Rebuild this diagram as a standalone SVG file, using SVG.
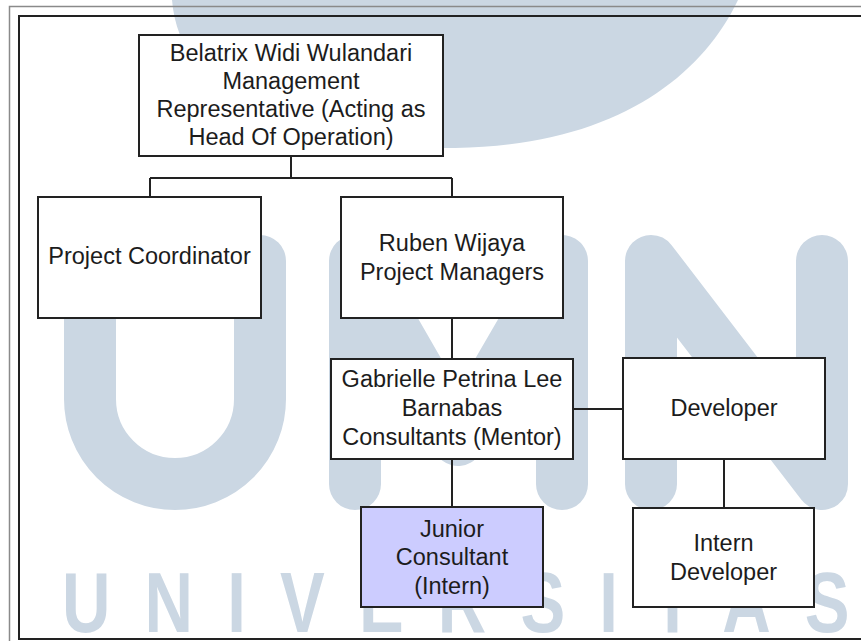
<svg xmlns="http://www.w3.org/2000/svg" width="861" height="641" viewBox="0 0 861 641">
<style>
.box{fill:#ffffff;stroke:#222222;stroke-width:2}
.hl{fill:#ccccff;stroke:#222222;stroke-width:2}
.lbl{font-family:"Liberation Sans",Arial,Helvetica,sans-serif;font-size:23.5px;fill:#1c1c1c;text-anchor:middle}
.conn{fill:none;stroke:#222222;stroke-width:2}
.wm{fill:none;stroke:#cbd7e3;stroke-width:52;stroke-linecap:round;stroke-linejoin:round}
.wmt{font-family:"Liberation Sans",Arial,sans-serif;font-weight:bold;font-size:86px;fill:#cbd7e3}
</style>
<rect x="0" y="0" width="861" height="641" fill="#ffffff"/>
<g id="watermark">
<path d="M172,0 C180,100 300,150 455,148 C610,146 700,80 738,0 Z" fill="#cbd7e3"/>
<path class="wm" d="M90,261 V399 A85,85 0 0 0 260,399 V261"/>
<path class="wm" d="M355,484 V261 L458,440 L562,261 V484"/>
<path class="wm" d="M651,484 V261 L822,484 V261"/>
<text class="wmt" x="79.5" y="632" transform="scale(0.78,1)" letter-spacing="43.8">UNIVERSITAS</text>
</g>
<g id="frame">
<rect x="9.5" y="6.5" width="900" height="700" fill="none" stroke="#8a8a8a" stroke-width="1.5"/>
<rect x="19" y="16" width="900" height="623" fill="none" stroke="#222222" stroke-width="2"/>
</g>
<g id="connectors">
<path class="conn" d="M291,156 V178 M150,178 H452 M150,178 V197 M452,178 V197"/>
<path class="conn" d="M452,318 V359"/>
<path class="conn" d="M573,409 H623"/>
<path class="conn" d="M452,459 V507"/>
<path class="conn" d="M724,459 V508"/>
</g>
<g id="head">
<rect class="box" x="139" y="35" width="304" height="121"/>
<text class="lbl" x="291" y="61">Belatrix Widi Wulandari</text>
<text class="lbl" x="291" y="89">Management</text>
<text class="lbl" x="291" y="117">Representative (Acting as</text>
<text class="lbl" x="291" y="145">Head Of Operation)</text>
</g>
<g id="project-coordinator">
<rect class="box" x="38" y="197" width="223" height="121"/>
<text class="lbl" x="149.5" y="264">Project Coordinator</text>
</g>
<g id="project-managers">
<rect class="box" x="341" y="197" width="222" height="121"/>
<text class="lbl" x="452" y="251">Ruben Wijaya</text>
<text class="lbl" x="452" y="280">Project Managers</text>
</g>
<g id="consultants">
<rect class="box" x="331" y="359" width="242" height="100"/>
<text class="lbl" x="452" y="387">Gabrielle Petrina Lee</text>
<text class="lbl" x="452" y="416">Barnabas</text>
<text class="lbl" x="452" y="445">Consultants (Mentor)</text>
</g>
<g id="developer">
<rect class="box" x="623" y="358" width="202" height="101"/>
<text class="lbl" x="724" y="416">Developer</text>
</g>
<g id="junior-consultant">
<rect class="hl" x="361" y="507" width="182" height="100"/>
<text class="lbl" x="452" y="537">Junior</text>
<text class="lbl" x="452" y="565">Consultant</text>
<text class="lbl" x="452" y="594">(Intern)</text>
</g>
<g id="intern-developer">
<rect class="box" x="633" y="508" width="181" height="99"/>
<text class="lbl" x="723.5" y="551">Intern</text>
<text class="lbl" x="723.5" y="580">Developer</text>
</g>
</svg>
